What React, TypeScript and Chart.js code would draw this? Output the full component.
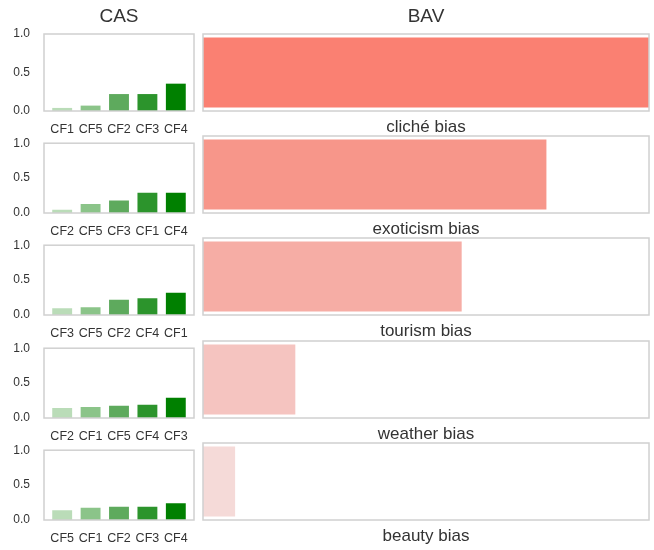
import React, { useEffect, useRef } from 'react';
import { Chart, registerables } from 'chart.js';

Chart.register(...registerables);

// ---------- data ----------
const biasNames = ['cliché bias', 'exoticism bias', 'tourism bias', 'weather bias', 'beauty bias'];

const casLabelsCliche = ['CF1', 'CF5', 'CF2', 'CF3', 'CF4'];
const casValuesCliche = [0.04, 0.07, 0.22, 0.22, 0.355];

const casLabelsExoticism = ['CF2', 'CF5', 'CF3', 'CF1', 'CF4'];
const casValuesExoticism = [0.045, 0.13, 0.18, 0.29, 0.29];

const casLabelsTourism = ['CF3', 'CF5', 'CF2', 'CF4', 'CF1'];
const casValuesTourism = [0.095, 0.11, 0.22, 0.24, 0.32];

const casLabelsWeather = ['CF2', 'CF1', 'CF5', 'CF4', 'CF3'];
const casValuesWeather = [0.145, 0.157, 0.175, 0.19, 0.29];

const casLabelsBeauty = ['CF5', 'CF1', 'CF2', 'CF3', 'CF4'];
const casValuesBeauty = [0.14, 0.175, 0.19, 0.19, 0.24];

const bavValues = [1.0, 0.77, 0.58, 0.207, 0.072];

const casTickValues = [0, 0.5, 1.0];

const greenShades = ['#badcb8', '#8bc489', '#5eaa5d', '#2c942c', '#008000'];
const salmonShades = ['#fa8072', '#f7968a', '#f6ada5', '#f5c4c0', '#f5dad8'];

const casLabels = [casLabelsCliche, casLabelsExoticism, casLabelsTourism, casLabelsWeather, casLabelsBeauty];
const casValues = [casValuesCliche, casValuesExoticism, casValuesTourism, casValuesWeather, casValuesBeauty];

// ---------- style / layout ----------
const FONT = "'Liberation Sans', Arial, Helvetica, sans-serif";
const TEXT = '#333333';
const rowTops = [34, 136, 238, 341, 443];
const panelH = 77;
const axisH = 28;
const topPad = 14;

Chart.defaults.font.family = FONT;
Chart.defaults.color = TEXT;

const framePlugin = {
  id: 'frame',
  afterDatasetsDraw(chart: any) {
    const { ctx, chartArea } = chart;
    const { left, top, right, bottom } = chartArea;
    ctx.save();
    ctx.strokeStyle = '#d0d0d0';
    ctx.lineWidth = 1.5;
    ctx.strokeRect(left, top, right - left, bottom - top);
    ctx.restore();
  },
};

function ChartBox({ left, top, width, height, config }: any) {
  const ref = useRef<HTMLCanvasElement | null>(null);
  useEffect(() => {
    if (!ref.current) return;
    const c = new Chart(ref.current, config);
    return () => c.destroy();
  }, []);
  return (
    <canvas
      ref={ref}
      width={width}
      height={height}
      style={{ position: 'absolute', left, top, width, height, display: 'block' }}
    />
  );
}

function titleFor(i: number, text: string) {
  return i === 0
    ? {
        display: true,
        text,
        color: TEXT,
        font: { size: 19, lineHeight: 1.2, weight: 'normal' },
        padding: { top: 5.5, bottom: 5.7 },
        fullSize: false,
      }
    : { display: false };
}

function casConfig(i: number) {
  const labels = casLabels[i];
  const values = casValues[i];
  return {
    type: 'bar',
    data: {
      datasets: [
        {
          data: values.map((v, k) => ({ x: k, y: v })),
          backgroundColor: greenShades,
          borderWidth: 0,
          barPercentage: 0.7,
          categoryPercentage: 1,
        },
      ],
    },
    options: {
      responsive: false,
      animation: false,
      layout: { padding: { top: i === 0 ? 0 : topPad, left: 0, right: 6, bottom: 0 } },
      plugins: { legend: { display: false }, tooltip: { enabled: false }, title: titleFor(i, 'CAS') },
      scales: {
        x: {
          type: 'linear',
          offset: false,
          min: -0.64,
          max: 4.64,
          afterBuildTicks: (s: any) => {
            s.ticks = labels.map((_, k) => ({ value: k }));
          },
          afterFit: (s: any) => {
            s.height = axisH;
          },
          ticks: {
            autoSkip: false,
            maxRotation: 0,
            padding: 11,
            color: TEXT,
            font: { size: 12.5 },
            callback: (_v: any, idx: number) => labels[idx],
          },
          grid: { display: false, drawTicks: false },
          border: { display: false },
        },
        y: {
          min: 0,
          max: 1,
          afterBuildTicks: (s: any) => {
            s.ticks = casTickValues.map((v) => ({ value: v }));
          },
          afterFit: (s: any) => {
            s.width = 44;
          },
          ticks: {
            padding: 14,
            color: TEXT,
            font: { size: 12 },
            callback: (v: any) => Number(v).toFixed(1),
          },
          grid: { display: false, drawTicks: false },
          border: { display: false },
        },
      },
    },
    plugins: [framePlugin],
  };
}

function bavConfig(i: number) {
  return {
    type: 'bar',
    data: {
      labels: [biasNames[i]],
      datasets: [
        {
          data: [bavValues[i]],
          backgroundColor: salmonShades[i],
          borderWidth: 0,
          barPercentage: 0.91,
          categoryPercentage: 1,
        },
      ],
    },
    options: {
      indexAxis: 'y',
      responsive: false,
      animation: false,
      layout: { padding: { top: i === 0 ? 0 : topPad, left: 7, right: 5, bottom: 0 } },
      plugins: { legend: { display: false }, tooltip: { enabled: false }, title: titleFor(i, 'BAV') },
      scales: {
        x: {
          type: 'linear',
          min: 0,
          max: 1,
          afterFit: (s: any) => {
            s.height = axisH;
          },
          ticks: { display: false },
          grid: { display: false, drawTicks: false },
          border: { display: false },
          title: {
            display: true,
            text: biasNames[i],
            color: TEXT,
            font: { size: 17, lineHeight: 1.2 },
            padding: { top: 0, bottom: 1 },
          },
        },
        y: { display: false },
      },
    },
    plugins: [framePlugin],
  };
}

export default function App() {
  return (
    <div style={{ position: 'absolute', left: 0, top: 0, width: 654, height: 550, background: '#ffffff' }}>
      {rowTops.map((t, i) => {
        const top = i === 0 ? 0 : t - topPad;
        const height = (i === 0 ? t : topPad) + panelH + axisH;
        return (
          <React.Fragment key={i}>
            <ChartBox left={0} top={top} width={200} height={height} config={casConfig(i)} />
            <ChartBox left={196} top={top} width={458} height={height} config={bavConfig(i)} />
          </React.Fragment>
        );
      })}
    </div>
  );
}
